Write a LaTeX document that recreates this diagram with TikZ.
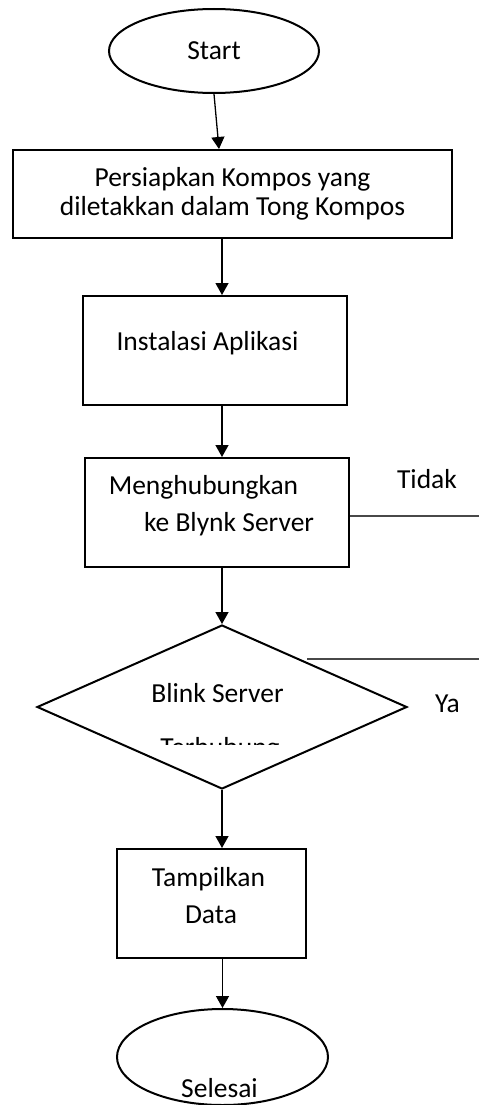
\documentclass[tikz,border=0pt]{standalone}
\usepackage{fontspec}
\setmainfont{Carlito}
\usepackage{tikz}
\usetikzlibrary{shapes.geometric,arrows.meta,calc}
\definecolor{sidegray}{RGB}{72,72,72}
\newcommand{\flowcolor}{black}
\newcommand{\boxthick}{2pt}
\newcommand{\arrowthick}{1.3pt}

\begin{document}
\begin{tikzpicture}[x=1pt,y=-1pt,
  every node/.style={font=\fontsize{27.5}{29}\selectfont, inner sep=0pt},
  terminal/.style={draw=\flowcolor, ellipse, line width=\boxthick},
  process/.style={draw=\flowcolor, rectangle, line width=\boxthick},
  decision/.style={draw=\flowcolor, diamond, line width=\boxthick},
  arr/.style={-{Triangle[width=13pt,length=12pt]}, line width=\arrowthick},
  side/.style={draw=sidegray, line width=1.6pt}]
\useasboundingbox (0,0) rectangle (479,1105);
\coordinate (axis) at (222,0);
% shapes
\node[terminal, minimum width=210pt, minimum height=84pt] (start) at (214,51) {Start};
\node[process, minimum width=439pt, minimum height=88pt, align=center] (persiapan) at (232.5,194)
  {Persiapkan Kompos yang\\diletakkan dalam Tong Kompos};
\node[process, minimum width=264pt, minimum height=109pt] (instalasi) at (215,350.5) {};
\node[process, minimum width=264pt, minimum height=109pt] (hubung) at (217,512.5) {};
\node[decision, minimum width=370pt, minimum height=164pt] (cek) at (222,707) {};
\node[process, minimum width=189pt, minimum height=109pt] (tampil) at (211.5,903.5) {};
\node[terminal, minimum width=211pt, minimum height=96pt] (selesai) at (222.5,1057) {};
% texts
\node[anchor=base] (instalasi-t) at (207.5,350) {Instalasi Aplikasi};
\node[anchor=base] (hubung-t1) at (203.5,494) {Menghubungkan};
\node[anchor=base] (hubung-t2) at (229,531) {ke Blynk Server};
\node[anchor=base] (tidak-t) at (427,488) {Tidak};
\node[anchor=base] (cek-t) at (217.5,702) {Blink Server};
\begin{scope}
\clip (140,725) rectangle (300,744);
\node[anchor=base] (terhubung-t) at (220,756) {Terhubung};
\end{scope}
\node[anchor=base] (ya-t) at (447.5,712) {Ya};
\node[anchor=base] (tampil-t1) at (208.5,886) {Tampilkan};
\node[anchor=base] (tampil-t2) at (211,923) {Data};
\node[anchor=base] (selesai-t) at (219.5,1097) {Selesai};
% arrows
\draw[arr] (start.south) -- ([xshift=-13.5pt]persiapan.north);
\draw[arr] (persiapan.south -| axis) -- (instalasi.north -| axis);
\draw[arr] (instalasi.south -| axis) -- (hubung.north -| axis);
\draw[arr] (hubung.south -| axis) -- (cek.north);
\draw[arr] (cek.south) -- (tampil.north -| axis);
\draw[arr] (tampil.south -| selesai.north) -- (selesai.north);
% side lines
\coordinate (tidak-end) at (479,516);
\draw[side] (hubung.east |- tidak-end) -- (tidak-end);
\coordinate (ya-start) at (307,659);
\coordinate (ya-end) at (479,659);
\draw[side] (ya-start) -- (ya-end);
\end{tikzpicture}
\end{document}
